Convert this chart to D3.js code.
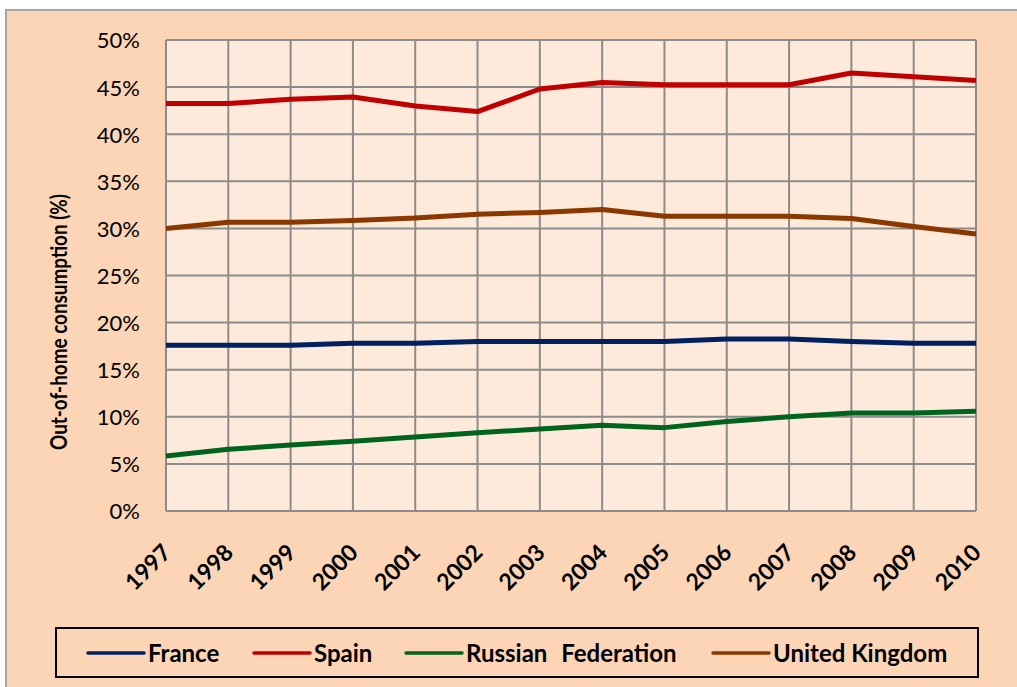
<!DOCTYPE html>
<html>
<head>
<meta charset="utf-8">
<script src="https://cdn.jsdelivr.net/npm/d3@7"></script>
<style>
  html, body { margin: 0; padding: 0; background: #fff; }
  svg { display: block; font-family: Lato, "Open Sans", sans-serif; }
</style>
</head>
<body>
<svg id="canvas" width="1017" height="687"></svg>
<script>
// chart data
const years = ['1997', '1998', '1999', '2000', '2001', '2002', '2003', '2004', '2005', '2006', '2007', '2008', '2009', '2010'];
const france = [17.6, 17.6, 17.6, 17.8, 17.8, 18.0, 18.0, 18.0, 18.0, 18.25, 18.25, 18.0, 17.8, 17.8];
const spain = [43.25, 43.25, 43.7, 43.95, 43.0, 42.4, 44.8, 45.5, 45.25, 45.25, 45.25, 46.5, 46.1, 45.7];
const russia = [5.85, 6.55, 7.0, 7.4, 7.85, 8.3, 8.7, 9.1, 8.85, 9.5, 10.0, 10.4, 10.4, 10.6];
const uk = [30.0, 30.65, 30.65, 30.85, 31.1, 31.5, 31.7, 32.0, 31.3, 31.3, 31.3, 31.05, 30.2, 29.4];
const yTicks = [0, 5, 10, 15, 20, 25, 30, 35, 40, 45, 50];

const series = [
    { name: 'France', values: france, color: '#002060' },
    { name: 'Spain', values: spain, color: '#C00000' },
    { name: 'Russian Federation', values: russia, color: '#00641E' },
    { name: 'United Kingdom', values: uk, color: '#8B3700' },
];

const svg = d3.select('#canvas');
const plot = { left: 166, right: 976, top: 40, bottom: 511 };

// outer chart area
svg.append('rect')
    .attr('x', 6).attr('y', 10)
    .attr('width', 1030).attr('height', 700)
    .attr('fill', '#FBD5B5')
    .attr('stroke', '#A6A6A6')
    .attr('stroke-width', 2);

const x = d3.scalePoint()
    .domain(years)
    .range([plot.left, plot.right]);

const y = d3.scaleLinear()
    .domain([0, 50])
    .range([plot.bottom, plot.top]);

// plot background
svg.append('rect')
    .attr('x', plot.left).attr('y', plot.top)
    .attr('width', plot.right - plot.left)
    .attr('height', plot.bottom - plot.top)
    .attr('fill', '#FDEADA');

// grid lines
const grid = svg.append('g').attr('stroke', '#8C8C8C').attr('stroke-width', 2);
grid.selectAll('.hgrid')
    .data(yTicks)
    .join('line')
        .attr('class', 'hgrid')
        .attr('x1', plot.left).attr('x2', plot.right)
        .attr('y1', d => y(d)).attr('y2', d => y(d));
grid.selectAll('.vgrid')
    .data(years)
    .join('line')
        .attr('class', 'vgrid')
        .attr('x1', d => x(d)).attr('x2', d => x(d))
        .attr('y1', plot.top).attr('y2', plot.bottom);

// y axis labels
const yAxis = svg.append('g')
    .attr('transform', `translate(${plot.left},0)`)
    .call(d3.axisLeft(y).tickValues(yTicks).tickFormat(d => d + '%').tickSize(0).tickPadding(26));
yAxis.select('.domain').remove();
yAxis.selectAll('text')
    .attr('font-family', 'Lato, sans-serif')
    .attr('font-size', 22)
    .attr('fill', '#000')
    .attr('dy', '0.36em');

// x axis labels, rotated
const xAxis = svg.append('g')
    .attr('transform', `translate(0,${plot.bottom})`)
    .call(d3.axisBottom(x).tickSize(0).tickPadding(0));
xAxis.select('.domain').remove();
xAxis.selectAll('text')
    .attr('font-family', 'Lato, sans-serif')
    .attr('font-size', 23)
    .attr('font-weight', 'bold')
    .attr('fill', '#000')
    .attr('text-anchor', 'end')
    .attr('dy', 0)
    .attr('y', 0)
    .attr('transform', 'translate(6,43) rotate(-45)');

// y axis title
svg.append('text')
    .attr('transform', 'translate(67,322) rotate(-90)')
    .attr('text-anchor', 'middle')
    .attr('font-size', 22)
    .attr('font-weight', 'bold')
    .attr('textLength', 256)
    .attr('lengthAdjust', 'spacingAndGlyphs')
    .text('Out-of-home consumption  (%)');

// series lines
const line = d3.line()
    .x((d, i) => x(years[i]))
    .y(d => y(d));

svg.append('g')
    .selectAll('path')
    .data(series)
    .join('path')
        .attr('d', d => line(d.values))
        .attr('fill', 'none')
        .attr('stroke', d => d.color)
        .attr('stroke-width', 5)
        .attr('stroke-linejoin', 'round');

// legend
const legend = svg.append('g');
legend.append('rect')
    .attr('x', 56).attr('y', 628)
    .attr('width', 922).attr('height', 49)
    .attr('fill', 'none')
    .attr('stroke', '#000')
    .attr('stroke-width', 2);

const legendX = [88, 254, 406, 713];
const items = legend.selectAll('.item')
    .data(series)
    .join('g')
        .attr('class', 'item')
        .attr('transform', (d, i) => `translate(${legendX[i]},653)`);
items.append('line')
    .attr('x1', 0).attr('x2', 56)
    .attr('stroke', d => d.color)
    .attr('stroke-width', 3.5)
    .attr('stroke-linecap', 'round');
items.append('text')
    .attr('x', 60)
    .attr('dy', '0.36em')
    .attr('font-size', 24)
    .attr('font-weight', 'bold')
    .attr('word-spacing', d => d.name === 'Russian Federation' ? 8 : 0)
    .text(d => d.name);
</script>
</body>
</html>
